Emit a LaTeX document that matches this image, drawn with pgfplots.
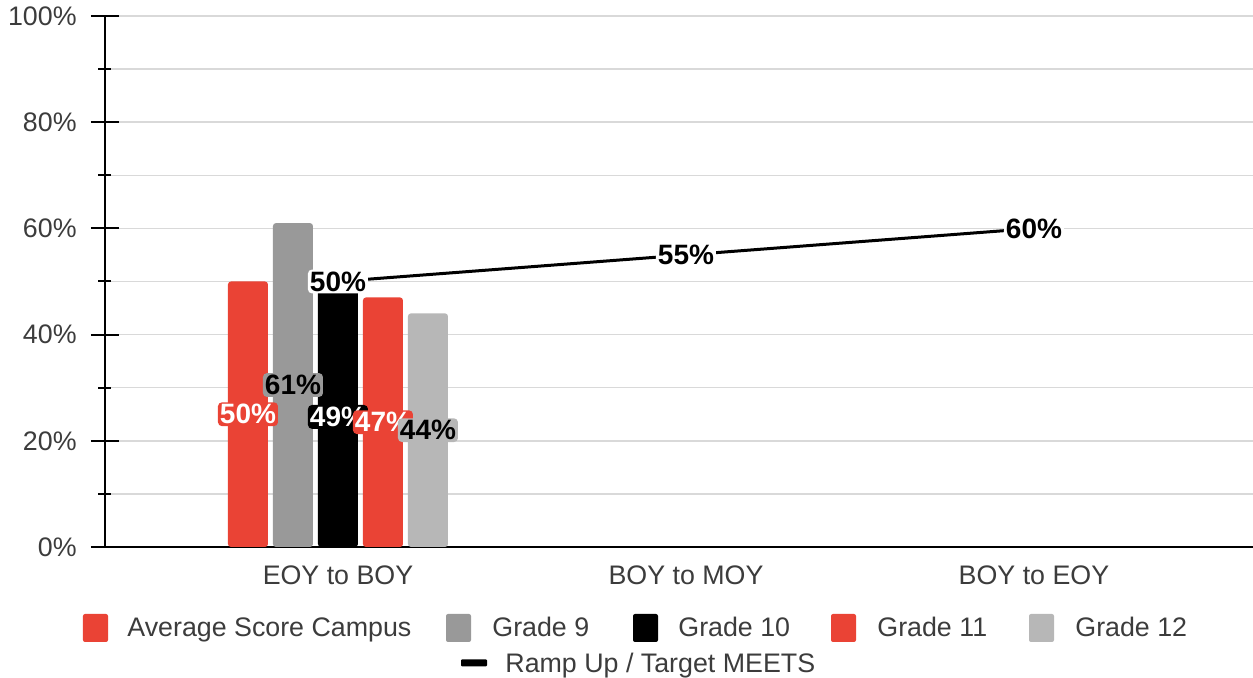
\documentclass[border=0pt]{standalone}
\usepackage{pgfplots}
\pgfplotsset{compat=1.18}
\usepackage{fontspec}
\setmainfont{Liberation Sans}
\definecolor{cred}{RGB}{234,67,53}
\definecolor{cg9}{RGB}{153,153,153}
\definecolor{cg12}{RGB}{183,183,183}
\definecolor{cgrid}{RGB}{217,217,217}
\definecolor{ctext}{RGB}{60,60,60}
\tikzset{lbl/.style={font=\bfseries\fontsize{14}{16}\selectfont, inner sep=1pt, rounded corners=2pt}}
\begin{document}
\begin{tikzpicture}
\path[use as bounding box] (-52.5pt,-65.5pt) rectangle (574pt,273.5pt);
\begin{axis}[
  at={(0,0)}, anchor=south west, scale only axis,
  width=574pt, height=265.5pt,
  xmin=-0.6695, xmax=2.6295, ymin=0, ymax=100,
  axis x line*=bottom, axis y line*=left,
  axis line style={black, line width=1pt},
  xtick={0,1,2}, xticklabels={EOY to BOY, BOY to MOY, BOY to EOY},
  x tick style={draw=none},
  ytick={0,20,...,100}, yticklabels={0\%,20\%,40\%,60\%,80\%,100\%},
  minor ytick={10,30,50,70,90},
  tick align=center,
  major tick length=14pt, minor tick length=6.5pt,
  y tick style={black, line width=1pt},
  ymajorgrids, yminorgrids,
  major grid style={cgrid, line width=0.75pt},
  minor grid style={cgrid, line width=0.75pt},
  tick label style={font=\fontsize{13.4}{15}\selectfont, text=ctext},
  yticklabel style={anchor=east, inner sep=0pt, xshift=-7pt},
  xticklabel style={anchor=north, inner sep=0pt, yshift=-2pt},
  clip=false,
]
\addplot[ybar, bar width=20pt, bar shift=-45pt, fill=cred, draw=none, rounded corners=1.5pt] coordinates {(0,50)};
\addplot[ybar, bar width=20pt, bar shift=-22.5pt, fill=cg9, draw=none, rounded corners=1.5pt] coordinates {(0,61)};
\addplot[ybar, bar width=20pt, bar shift=0pt, fill=black, draw=none, rounded corners=1.5pt] coordinates {(0,49)};
\addplot[ybar, bar width=20pt, bar shift=22.5pt, fill=cred, draw=none, rounded corners=1.5pt] coordinates {(0,47)};
\addplot[ybar, bar width=20pt, bar shift=45pt, fill=cg12, draw=none, rounded corners=1.5pt] coordinates {(0,44)};
\addplot[black, line width=1.5pt, mark=none] coordinates {(0,50) (1,55) (2,60)};
\node[lbl, fill=cred, text=white, xshift=-45pt] at (axis cs:0,25) {50\%};
\node[lbl, fill=cg9, text=black, xshift=-22.5pt] at (axis cs:0,30.5) {61\%};
\node[lbl, fill=black, text=white, xshift=0pt] at (axis cs:0,24.5) {49\%};
\node[lbl, fill=cred, text=white, xshift=22.5pt] at (axis cs:0,23.5) {47\%};
\node[lbl, fill=cg12, text=black, xshift=45pt] at (axis cs:0,22) {44\%};
\node[lbl, fill=white, text=black] at (axis cs:0,50) {50\%};
\node[lbl, fill=white, text=black] at (axis cs:1,55) {55\%};
\node[lbl, fill=white, text=black] at (axis cs:2,60) {60\%};
\end{axis}
\begin{scope}[every node/.style={anchor=mid west, inner sep=0pt, text=ctext, font=\fontsize{13.4}{15}\selectfont}]
\fill[cred, rounded corners=1pt] (-11pt,-47.5pt) rectangle ++(12.5pt,14pt);
\node at (11pt,-42pt) {Average Score Campus};
\fill[cg9, rounded corners=1pt] (170.5pt,-47.5pt) rectangle ++(12.5pt,14pt);
\node at (193.5pt,-42pt) {Grade 9};
\fill[black, rounded corners=1pt] (264pt,-47.5pt) rectangle ++(12.5pt,14pt);
\node at (286.5pt,-42pt) {Grade 10};
\fill[cred, rounded corners=1pt] (363pt,-47.5pt) rectangle ++(12.5pt,14pt);
\node at (386pt,-42pt) {Grade 11};
\fill[cg12, rounded corners=1pt] (462pt,-47.5pt) rectangle ++(12.5pt,14pt);
\node at (485pt,-42pt) {Grade 12};
\fill[black, rounded corners=0.5pt] (178pt,-59.75pt) rectangle ++(13pt,3.5pt);
\node at (200pt,-60pt) {Ramp Up / Target MEETS};
\end{scope}
\end{tikzpicture}
\end{document}
